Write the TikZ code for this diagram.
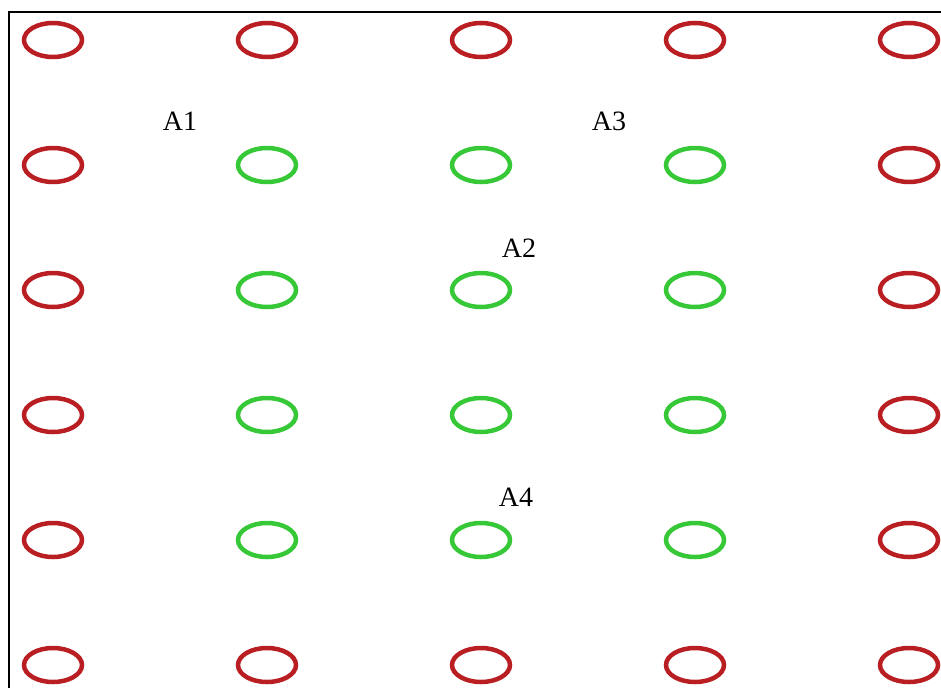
\documentclass[tikz,border=0pt]{standalone}
\usepackage{fontspec}
\setmainfont{Liberation Serif}
\usetikzlibrary{shapes.geometric}
\definecolor{ringred}{RGB}{185,30,35}
\definecolor{ringgreen}{RGB}{55,200,55}
\tikzset{
  ring/.style={ellipse, minimum width=58pt, minimum height=34pt, inner sep=0pt, line width=4.5pt},
  redring/.style={ring, draw=ringred},
  greenring/.style={ring, draw=ringgreen},
  lab/.style={font=\fontsize{28}{30}\selectfont, inner sep=0pt}
}
\begin{document}
\begin{tikzpicture}[x=1pt,y=-1pt]
\useasboundingbox (0,0) rectangle (941,688);
\coordinate (tl) at (9,12);
\coordinate (tr) at (941,12);
\coordinate (bl) at (9,688);
\draw[line width=2pt] (tr) -- (tl) -- (bl);
\foreach \c [count=\i] in {53,267,481,695,909}{
  \foreach \r [count=\j] in {40,165,290,415,540,665}{
    \pgfmathsetmacro{\inner}{(\i>1 && \i<5 && \j>1 && \j<6) ? 1 : 0}
    \ifdim\inner pt>0.5pt
      \node[greenring] (e\i\j) at (\c,\r) {};
    \else
      \node[redring] (e\i\j) at (\c,\r) {};
    \fi
  }
}
\node[lab] (A1) at (180,121) {A1};
\node[lab] (A3) at (609,121) {A3};
\node[lab] (A2) at (519,248) {A2};
\node[lab] (A4) at (516,497) {A4};
\end{tikzpicture}
\end{document}
